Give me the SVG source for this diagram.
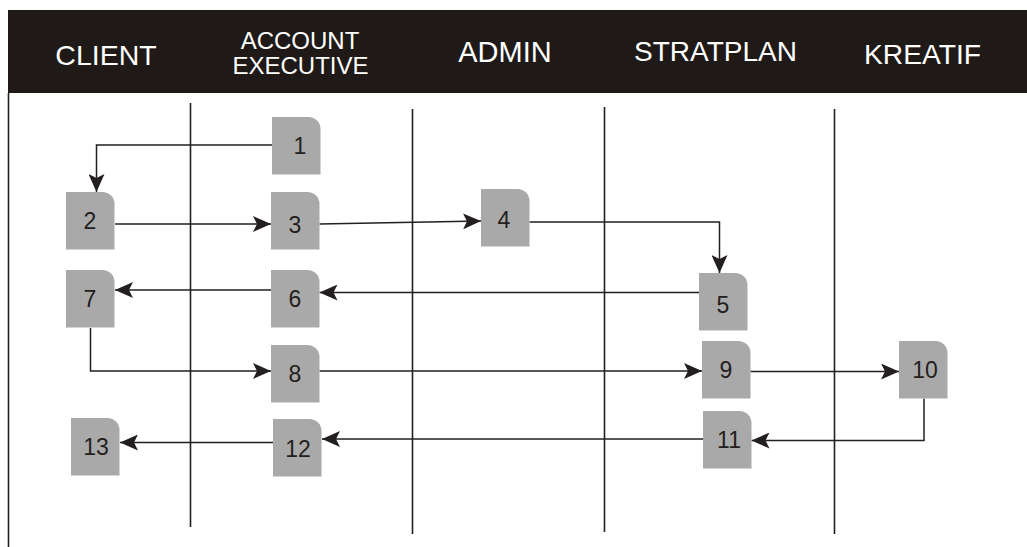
<svg xmlns="http://www.w3.org/2000/svg" width="1027" height="547" viewBox="0 0 1027 547">
<style>
.hdr{fill:#ffffff;font-family:"Liberation Sans",Arial,sans-serif;text-anchor:middle}
.lane{stroke:#231f20;stroke-width:1.6;fill:none}
.node path{fill:#a9a9a9}
.node text{fill:#231f20;font-family:"Liberation Sans",Arial,sans-serif;font-size:23px;text-anchor:middle}
.conn{stroke:#231f20;stroke-width:1.5;fill:none;marker-end:url(#arr)}
</style>
<defs>
<marker id="arr" viewBox="0 0 18 16" refX="18" refY="8" markerWidth="18" markerHeight="16" markerUnits="userSpaceOnUse" orient="auto">
<path d="M0,0 L18,8 L0,16 L4,8 Z" fill="#231f20"/>
</marker>
</defs>
<rect x="0" y="0" width="1027" height="547" fill="#ffffff"/>
<g id="header">
<rect x="8" y="10" width="1019" height="83" fill="#1f1a17"/>
<text class="hdr" x="106" y="65" font-size="28.5">CLIENT</text>
<text class="hdr" x="300" y="49" font-size="24">ACCOUNT</text>
<text class="hdr" x="300.5" y="74" font-size="24">EXECUTIVE</text>
<text class="hdr" x="505" y="62" font-size="29">ADMIN</text>
<text class="hdr" x="715.5" y="61" font-size="28">STRATPLAN</text>
<text class="hdr" x="922.5" y="64" font-size="28.2">KREATIF</text>
</g>
<g id="lanes">
<line class="lane" x1="8.5" y1="93" x2="8.5" y2="547"/>
<line class="lane" x1="190.5" y1="103" x2="190.5" y2="527"/>
<line class="lane" x1="412.5" y1="109" x2="412.5" y2="534"/>
<line class="lane" x1="604.5" y1="107" x2="604.5" y2="532"/>
<line class="lane" x1="834.5" y1="109" x2="834.5" y2="534"/>
</g>
<g id="connectors">
<path class="conn" d="M272,145 H96.5 V192"/>
<path class="conn" d="M115,224 H271"/>
<path class="conn" d="M319.5,224 L481,221"/>
<path class="conn" d="M529.5,222 H719.5 V273"/>
<path class="conn" d="M699,292.5 H319.5"/>
<path class="conn" d="M271,290 H115"/>
<path class="conn" d="M90.5,328 V371 H271"/>
<path class="conn" d="M319.5,371 H702"/>
<path class="conn" d="M750.5,371.5 H899"/>
<path class="conn" d="M924,398.5 V440.5 H751.5"/>
<path class="conn" d="M703,439 H322"/>
<path class="conn" d="M273,442.5 H120"/>
</g>
<g id="n1" class="node"><path d="M272,117 H308.5 A12,12 0 0 1 320.5,129 V174.5 H272 Z"/><text x="300" y="154">1</text></g>
<g id="n2" class="node"><path d="M66,192 H102.5 A12,12 0 0 1 114.5,204 V249.5 H66 Z"/><text x="90" y="229">2</text></g>
<g id="n3" class="node"><path d="M271,192 H307.5 A12,12 0 0 1 319.5,204 V249.5 H271 Z"/><text x="295" y="233">3</text></g>
<g id="n4" class="node"><path d="M481,189 H517.5 A12,12 0 0 1 529.5,201 V246.5 H481 Z"/><text x="504" y="228">4</text></g>
<g id="n5" class="node"><path d="M699,273 H735.5 A12,12 0 0 1 747.5,285 V330.5 H699 Z"/><text x="723" y="313">5</text></g>
<g id="n6" class="node"><path d="M271,270 H307.5 A12,12 0 0 1 319.5,282 V327.5 H271 Z"/><text x="295" y="307">6</text></g>
<g id="n7" class="node"><path d="M66,270 H102.5 A12,12 0 0 1 114.5,282 V327.5 H66 Z"/><text x="90" y="307">7</text></g>
<g id="n8" class="node"><path d="M271,345 H307.5 A12,12 0 0 1 319.5,357 V402.5 H271 Z"/><text x="295" y="382">8</text></g>
<g id="n9" class="node"><path d="M702,341 H738.5 A12,12 0 0 1 750.5,353 V398.5 H702 Z"/><text x="726" y="378">9</text></g>
<g id="n10" class="node"><path d="M899,341 H935.5 A12,12 0 0 1 947.5,353 V398.5 H899 Z"/><text x="925" y="378">10</text></g>
<g id="n11" class="node"><path d="M703,411 H739.5 A12,12 0 0 1 751.5,423 V468.5 H703 Z"/><text x="729" y="448">11</text></g>
<g id="n12" class="node"><path d="M273,419 H309.5 A12,12 0 0 1 321.5,431 V476.5 H273 Z"/><text x="298" y="457">12</text></g>
<g id="n13" class="node"><path d="M71,418 H107.5 A12,12 0 0 1 119.5,430 V475.5 H71 Z"/><text x="96" y="455">13</text></g>
</svg>
